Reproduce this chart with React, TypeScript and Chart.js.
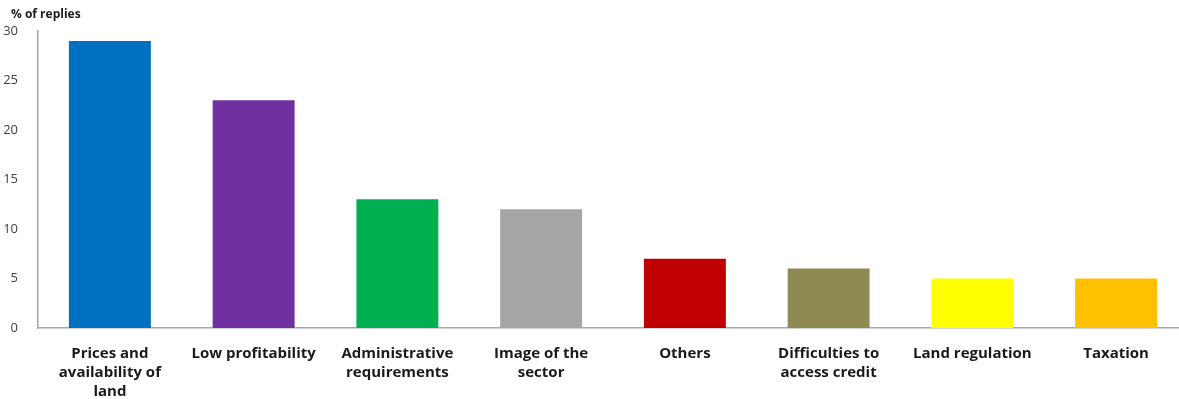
import React, { useEffect, useRef } from "react";
import { Chart, registerables } from "chart.js";

Chart.register(...registerables);

const categories: (string | string[])[] = [
  ["Prices and", "availability of", "land"],
  "Low profitability",
  ["Administrative", "requirements"],
  ["Image of the", "sector"],
  "Others",
  ["Difficulties to", "access credit"],
  "Land regulation",
  "Taxation",
];
const replies = [29, 23, 13, 12, 7, 6, 5, 5];
const barColors = ["#0070C0", "#7030A0", "#00B050", "#A6A6A6", "#C00000", "#8F8952", "#FFFF00", "#FFC000"];
const yTicks = [0, 5, 10, 15, 20, 25, 30];
const yTitle = "% of replies";

const FONT = "'Open Sans', 'Liberation Sans', sans-serif";

export default function App() {
  const ref = useRef<HTMLCanvasElement | null>(null);
  useEffect(() => {
    document.body.style.margin = "0";
    if (!ref.current) return;
    const titlePlugin = {
      id: "ytitle",
      afterDraw(chart: any) {
        const ctx = chart.ctx;
        ctx.save();
        ctx.font = `bold 12px ${FONT}`;
        ctx.fillStyle = "#1a1a1a";
        ctx.textAlign = "left";
        ctx.textBaseline = "middle";
        ctx.fillText(yTitle, 11, 15);
        ctx.restore();
      },
    };
    const chart = new Chart(ref.current, {
      type: "bar",
      data: {
        labels: categories,
        datasets: [
          {
            data: replies,
            backgroundColor: barColors,
            borderWidth: 0,
            barPercentage: 0.57,
            categoryPercentage: 1,
          },
        ],
      },
      options: {
        animation: false,
        responsive: true,
        maintainAspectRatio: false,
        layout: { padding: { top: 31, left: 0, right: 0, bottom: 0 } },
        plugins: { legend: { display: false }, tooltip: { enabled: false }, title: { display: false } },
        scales: {
          x: {
            grid: { display: false },
            border: { display: true, color: "#a6a6a6", width: 1.5 },
            ticks: {
              font: { family: FONT, size: 15, weight: "bold", lineHeight: 1.27 },
              color: "#1a1a1a",
              maxRotation: 0,
              autoSkip: false,
              padding: 8,
            },
            afterFit(scale: any) {
              scale.height = 71;
            },
          },
          y: {
            min: 0,
            max: 30,
            afterBuildTicks(scale: any) {
              scale.ticks = yTicks.map((v) => ({ value: v }));
            },
            grid: { display: false },
            border: { display: true, color: "#a6a6a6", width: 1.5 },
            ticks: {
              font: { family: FONT, size: 13 },
              color: "#404040",
              padding: 12,
            },
            afterFit(scale: any) {
              scale.width = 38;
            },
          },
        },
      },
      plugins: [titlePlugin],
    } as any);
    return () => chart.destroy();
  }, []);
  return (
    <div style={{ width: 1179, height: 399, overflow: "hidden" }}>
      <div style={{ width: 1188, height: 399, position: "relative" }}>
        <canvas ref={ref} />
      </div>
    </div>
  );
}
